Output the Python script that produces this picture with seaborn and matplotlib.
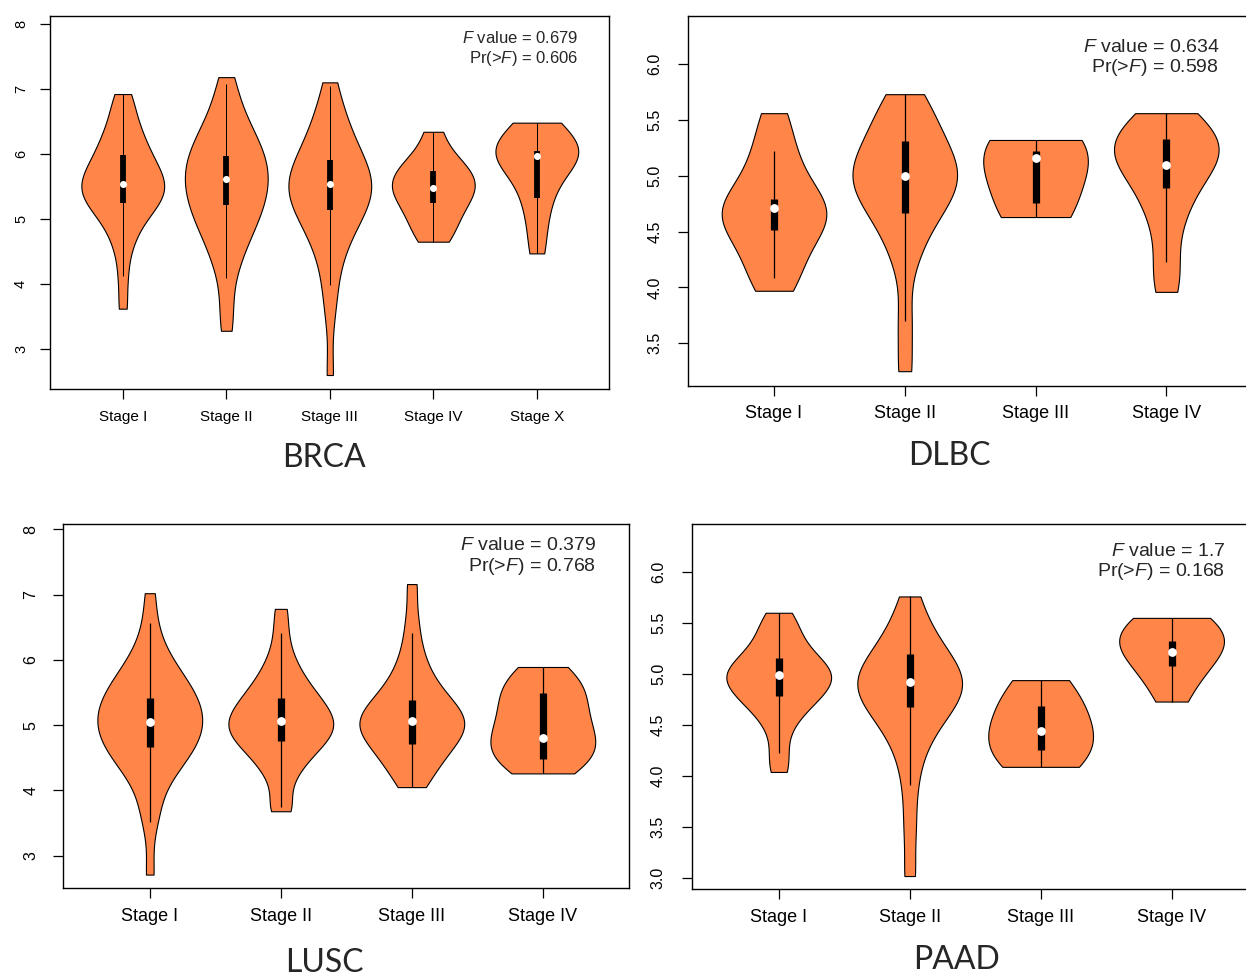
import numpy as np
import pandas as pd
import matplotlib
matplotlib.use("Agg")
import matplotlib.pyplot as plt
import seaborn as sns

sns.set_style("ticks")
plt.rcParams["font.family"] = ["Liberation Sans", "DejaVu Sans"]
plt.rcParams["mathtext.fontset"] = "custom"
plt.rcParams["mathtext.rm"] = "Liberation Sans"
plt.rcParams["mathtext.it"] = "Liberation Sans:italic"

VIOLIN_COLOR = "#ff8548"

# ---------------- BRCA ----------------
brca_stages = ["Stage I", "Stage II", "Stage III", "Stage IV", "Stage X"]
brca_expr = [
    [3.62, 4.10, 4.49, 4.70, 4.85, 4.98, 5.06, 5.13, 5.21, 5.26, 5.30, 5.35, 5.39, 5.44, 5.48, 5.53,
     5.58, 5.62, 5.67, 5.71, 5.77, 5.84, 5.90, 5.97, 6.05, 6.13, 6.21, 6.32, 6.43, 6.57, 6.77, 6.92],
    [3.28, 3.70, 4.13, 4.37, 4.54, 4.68, 4.80, 4.90, 4.99, 5.07, 5.15, 5.23, 5.30, 5.37, 5.44, 5.51,
     5.57, 5.64, 5.70, 5.77, 5.84, 5.90, 5.97, 6.05, 6.13, 6.20, 6.30, 6.40, 6.53, 6.68, 6.90, 7.18],
    [2.60, 3.55, 3.95, 4.30, 4.52, 4.68, 4.82, 4.93, 5.02, 5.10, 5.17, 5.24, 5.30, 5.36, 5.42, 5.48,
     5.53, 5.58, 5.63, 5.69, 5.75, 5.82, 5.90, 5.98, 6.07, 6.18, 6.30, 6.43, 6.58, 6.78, 7.10],
    [4.65, 4.80, 4.98, 5.12, 5.24, 5.35, 5.44, 5.50, 5.58, 5.66, 5.75, 5.86, 5.98, 6.34],
    [4.47, 4.90, 5.25, 5.45, 5.68, 5.85, 5.94, 5.97, 6.01, 6.06, 6.15, 6.28, 6.40, 6.48],
]
brca_median = [5.54, 5.62, 5.53, 5.47, 5.97]
brca_q1 = [5.24, 5.21, 5.13, 5.24, 5.32]
brca_q3 = [5.98, 5.96, 5.90, 5.74, 6.04]
brca_whis_lo = [4.13, 4.09, 3.98, 4.65, 4.47]
brca_whis_hi = [6.92, 7.08, 7.05, 6.34, 6.48]
brca_fval, brca_pval = "0.679", "0.606"

# ---------------- DLBC ----------------
dlbc_stages = ["Stage I", "Stage II", "Stage III", "Stage IV"]
dlbc_expr = [
    [3.97, 4.10, 4.25, 4.38, 4.48, 4.55, 4.62, 4.68, 4.73, 4.79, 4.88, 5.00, 5.15, 5.32, 5.56],
    [3.25, 3.70, 4.20, 4.42, 4.56, 4.66, 4.74, 4.81, 4.87, 4.92, 4.97, 5.02, 5.07, 5.12, 5.18,
     5.25, 5.33, 5.42, 5.52, 5.63, 5.73],
    [4.63, 4.76, 5.16, 5.22, 5.32],
    [3.96, 4.23, 4.55, 4.75, 4.89, 5.00, 5.10, 5.16, 5.21, 5.26, 5.33, 5.41, 5.49, 5.56],
]
dlbc_median = [4.71, 5.00, 5.16, 5.10]
dlbc_q1 = [4.51, 4.67, 4.76, 4.89]
dlbc_q3 = [4.79, 5.31, 5.22, 5.33]
dlbc_whis_lo = [4.08, 3.70, 4.63, 4.23]
dlbc_whis_hi = [5.22, 5.73, 5.32, 5.56]
dlbc_fval, dlbc_pval = "0.634", "0.598"

# ---------------- LUSC ----------------
lusc_stages = ["Stage I", "Stage II", "Stage III", "Stage IV"]
lusc_expr = [
    [2.71, 3.52, 3.74, 4.08, 4.23, 4.35, 4.43, 4.50, 4.58, 4.64, 4.70, 4.76, 4.81, 4.87, 4.92, 4.97, 5.02,
     5.07, 5.12, 5.18, 5.23, 5.28, 5.34, 5.39, 5.45, 5.51, 5.57, 5.64, 5.72, 5.81, 5.90, 6.03, 6.21, 6.53, 7.02],
    [3.68, 3.78, 4.12, 4.30, 4.42, 4.52, 4.60, 4.67, 4.73, 4.78, 4.83, 4.88, 4.93, 4.97, 5.01, 5.06,
     5.10, 5.15, 5.20, 5.25, 5.31, 5.37, 5.43, 5.50, 5.58, 5.67, 5.78, 5.92, 6.10, 6.41, 6.78],
    [4.05, 4.18, 4.32, 4.43, 4.52, 4.60, 4.67, 4.73, 4.79, 4.85, 4.90, 4.95, 5.00, 5.04, 5.07,
     5.11, 5.16, 5.21, 5.27, 5.33, 5.40, 5.48, 5.57, 5.68, 5.82, 6.00, 6.25, 6.62, 7.16],
    [4.26, 4.34, 4.42, 4.50, 4.58, 4.66, 4.74, 4.80, 4.88, 4.98, 5.08, 5.18, 5.28, 5.38, 5.48,
     5.58, 5.68, 5.78, 5.89],
]
lusc_median = [5.04, 5.06, 5.07, 4.80]
lusc_q1 = [4.66, 4.75, 4.71, 4.48]
lusc_q3 = [5.42, 5.42, 5.39, 5.49]
lusc_whis_lo = [3.52, 3.75, 4.05, 4.26]
lusc_whis_hi = [6.56, 6.41, 6.41, 5.89]
lusc_fval, lusc_pval = "0.379", "0.768"

# ---------------- PAAD ----------------
paad_stages = ["Stage I", "Stage II", "Stage III", "Stage IV"]
paad_expr = [
    [4.04, 4.23, 4.45, 4.58, 4.66, 4.72, 4.77, 4.81, 4.85, 4.89, 4.93, 4.96, 4.99, 5.02, 5.05,
     5.09, 5.13, 5.18, 5.24, 5.31, 5.40, 5.50, 5.60],
    [3.02, 3.50, 3.91, 4.20, 4.36, 4.48, 4.57, 4.64, 4.70, 4.75, 4.80, 4.84, 4.88, 4.92, 4.96,
     5.00, 5.05, 5.10, 5.16, 5.23, 5.31, 5.41, 5.55, 5.76],
    [4.09, 4.20, 4.30, 4.44, 4.60, 4.75, 4.94],
    [4.73, 4.85, 5.00, 5.10, 5.17, 5.22, 5.26, 5.30, 5.35, 5.40, 5.45, 5.49, 5.52, 5.55],
]
paad_median = [4.99, 4.92, 4.44, 5.22]
paad_q1 = [4.78, 4.68, 4.26, 5.08]
paad_q3 = [5.16, 5.20, 4.69, 5.32]
paad_whis_lo = [4.23, 3.91, 4.09, 4.73]
paad_whis_hi = [5.60, 5.76, 4.94, 5.55]
paad_fval, paad_pval = "1.7", "0.168"

W, H = 1246, 980
fig = plt.figure(figsize=(W / 100, H / 100), dpi=100)


def px_rect(left, top, right, bottom):
    return [left / W, 1 - bottom / H, (right - left) / W, (bottom - top) / H]


def draw_panel(rect, stages, expr, med, q1, q3, wlo, whi, ylim, yticks, yfmt,
               fs, yfs, scale, bws, ypad, xpad):
    ax = fig.add_axes(rect)
    df = pd.DataFrame({
        "stage": np.repeat(stages, [len(v) for v in expr]),
        "expr": np.concatenate(expr),
    })
    # one call per stage so each violin gets its own smoothing
    for stage, bw in zip(stages, bws):
        sns.violinplot(data=df[df["stage"] == stage], x="stage", y="expr", order=stages,
                       cut=0, inner=None, density_norm="width", width=0.8,
                       color=VIOLIN_COLOR, saturation=1, linecolor="black",
                       linewidth=0.8, bw_adjust=bw, ax=ax)
    pos = np.arange(len(stages))
    ax.vlines(pos, wlo, whi, color="black", lw=0.9 * scale, zorder=3)
    ax.vlines(pos, q1, q3, color="black", lw=5.2 * scale, zorder=4)
    ax.scatter(pos, med, s=40 * scale ** 2, color="white", zorder=5, linewidths=0)

    n = len(stages)
    pad = 0.04 * n
    ax.set_xlim(-0.5 - pad, n - 0.5 + pad)
    ax.set_ylim(*ylim)
    ax.set_yticks(yticks)
    ax.set_yticklabels([yfmt.format(t) for t in yticks])
    ax.set_xlabel("")
    ax.set_ylabel("")
    for sp in ax.spines.values():
        sp.set_visible(True)
        sp.set_color("black")
        sp.set_linewidth(1.0)
    ax.tick_params(axis="x", length=7, width=0.9, labelsize=fs, pad=xpad, colors="black")
    ax.tick_params(axis="y", length=7, width=0.9, labelsize=yfs, pad=ypad, colors="black",
                   labelrotation=90)
    for lab in ax.get_yticklabels():
        lab.set_va("center")
    ax.grid(False)
    return ax


draw_panel(px_rect(50.3, 16, 609.3, 389), brca_stages, brca_expr, brca_median, brca_q1, brca_q3,
           brca_whis_lo, brca_whis_hi, (2.385, 8.12), [3, 4, 5, 6, 7, 8], "{:.0f}",
           11, 10.5, 0.8, [0.7, 0.7, 0.8, 0.9, 0.9], 9, 8)
draw_panel(px_rect(687.7, 16, 1252.6, 385.7), dlbc_stages, dlbc_expr, dlbc_median, dlbc_q1, dlbc_q3,
           dlbc_whis_lo, dlbc_whis_hi, (3.12, 6.43), [3.5, 4.0, 4.5, 5.0, 5.5, 6.0], "{:.1f}",
           13, 11.5, 1.0, [0.8, 0.7, 1.3, 0.75], 11, 7)
draw_panel(px_rect(63.3, 524, 629.3, 888.3), lusc_stages, lusc_expr, lusc_median, lusc_q1, lusc_q3,
           lusc_whis_lo, lusc_whis_hi, (2.50, 8.08), [3, 4, 5, 6, 7, 8], "{:.0f}",
           13, 11.5, 1.0, [0.8, 0.65, 0.75, 1.0], 11, 7)
draw_panel(px_rect(692.3, 524, 1258, 889.3), paad_stages, paad_expr, paad_median, paad_q1, paad_q3,
           paad_whis_lo, paad_whis_hi, (2.89, 6.47), [3.0, 3.5, 4.0, 4.5, 5.0, 5.5, 6.0], "{:.1f}",
           13, 11.5, 1.0, [0.7, 0.7, 1.2, 1.5], 12, 7)

# ANOVA annotations
stat_texts = [
    (578, 38, 59, brca_fval, brca_pval, 12),
    (1219, 47, 67, dlbc_fval, dlbc_pval, 14),
    (596, 546, 566, lusc_fval, lusc_pval, 14),
    (1225, 552, 572, paad_fval, paad_pval, 14),
]
for x, y1, y2, fv, pv, fs in stat_texts:
    fig.text(x / W, 1 - y1 / H, r"$F$ value = " + fv, ha="right", va="center", fontsize=fs)
    fig.text(x / W, 1 - y2 / H, r"Pr(>$F$) = " + pv, ha="right", va="center", fontsize=fs)

# cancer type titles
title_font = ["Lato", "DejaVu Sans"]
for x, y, name in [(324, 458, "BRCA"), (949, 456, "DLBC"), (324, 963, "LUSC"), (957, 960, "PAAD")]:
    fig.text(x / W, 1 - y / H, name, ha="center", va="center", fontsize=23, family=title_font)

fig.savefig("out.png", dpi=100)
